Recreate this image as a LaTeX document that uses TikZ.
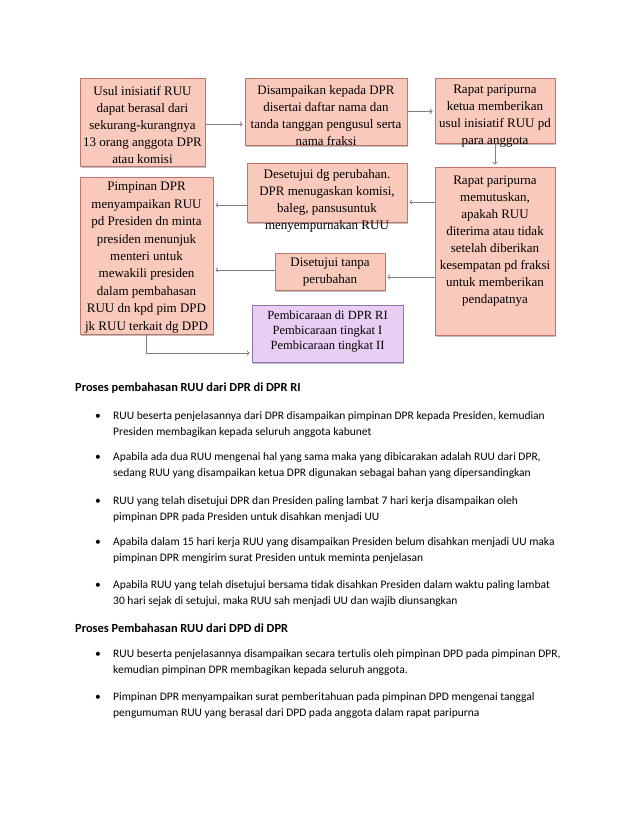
\documentclass[tikz,border=0pt]{standalone}
\usepackage{fontspec}
\setmainfont{Liberation Serif}
\newfontfamily\bodyfont{Carlito}
\usepackage{tikz}
\usetikzlibrary{positioning,shadows,arrows}
\definecolor{boxfill}{HTML}{F9CABB}
\definecolor{boxline}{HTML}{BF746C}
\definecolor{purplefill}{HTML}{E7CEF2}
\definecolor{purpleline}{HTML}{9275AA}
\definecolor{arrowgray}{HTML}{857A86}

\begin{document}
\begin{tikzpicture}[x=1pt,y=-1pt]
\tikzstyle{pinkbox} = [rectangle, draw=boxline, fill=boxfill, line width=0.8pt, inner sep=0pt, drop shadow={shadow xshift=1pt, shadow yshift=-1.8pt, opacity=0.5}]
\tikzstyle{purplebox} = [pinkbox, draw=purpleline, fill=purplefill]
\tikzstyle{boxtext} = [align=center, inner sep=0pt, font=\fontsize{13}{17}\selectfont]
\tikzstyle{arrow} = [draw=arrowgray, line width=0.9pt, ->, >=to, shorten >=2pt]
\tikzstyle{heading} = [anchor=base west, inner sep=0pt, font=\bodyfont\bfseries\fontsize{12.4}{17}\selectfont]
\tikzstyle{item} = [anchor=base west, inner sep=0pt, align=left, font=\bodyfont\fontsize{11.5}{16.8}\selectfont]
\tikzstyle{dot} = [anchor=base, inner sep=0pt, font=\bodyfont\fontsize{11.5}{17}\selectfont]

\useasboundingbox (0,0) rectangle (638,826);

%boxes
\node (usul) [pinkbox, minimum width=125, minimum height=88] at (142.5,122) {};
\node (disampaikan) [pinkbox, minimum width=162, minimum height=67] at (326,111.5) {};
\node (rapat1) [pinkbox, minimum width=120, minimum height=65] at (495,110.5) {};
\node (desetujui) [pinkbox, minimum width=160, minimum height=59] at (327,192.5) {};
\node (rapat2) [pinkbox, minimum width=120, minimum height=168] at (495,251) {};
\node (pimpinan) [pinkbox, minimum width=133, minimum height=157] at (146.5,255.5) {};
\node (tanpa) [pinkbox, minimum width=110, minimum height=37] at (330,271.5) {};
\node (pembicaraan) [purplebox, minimum width=151, minimum height=57] at (327.5,333.5) {};

%box texts
\node (usultext) [boxtext, yshift=-3pt] at (usul) {Usul inisiatif RUU\\ dapat berasal dari\\ sekurang-kurangnya\\ 13 orang anggota DPR\\ atau komisi};
\node (disampaikantext) [boxtext, yshift=-4.5pt] at (disampaikan) {Disampaikan kepada DPR\\ disertai daftar nama dan\\ tanda tanggan pengusul serta\\ nama fraksi};
\node (rapat1text) [boxtext, yshift=-5.5pt] at (rapat1) {Rapat paripurna\\ ketua memberikan\\ usul inisiatif RUU pd\\ para anggota};
\node (desetujuitext) [boxtext, yshift=-8pt] at (desetujui) {Desetujui dg perubahan.\\ DPR menugaskan komisi,\\ baleg, pansusuntuk\\ menyempurnakan RUU};
\node (rapat2text) [boxtext, yshift=10pt] at (rapat2) {Rapat paripurna\\ memutuskan,\\ apakah RUU\\ diterima atau tidak\\ setelah diberikan\\ kesempatan pd fraksi\\ untuk memberikan\\ pendapatnya};
\node (pimpinantext) [boxtext, yshift=-2pt, font=\fontsize{13}{17.4}\selectfont] at (pimpinan) {Pimpinan DPR\\ menyampaikan RUU\\ pd Presiden dn minta\\ presiden menunjuk\\ menteri untuk\\ mewakili presiden\\ dalam pembahasan\\ RUU dn kpd pim DPD\\ jk RUU terkait dg DPD};
\node (tanpatext) [boxtext, yshift=-1pt] at (tanpa) {Disetujui tanpa\\ perubahan};
\node (pembicaraantext) [boxtext, yshift=1.5pt, font=\fontsize{12.5}{15}\selectfont] at (pembicaraan) {Pembicaraan di DPR RI\\ Pembicaraan tingkat I\\ Pembicaraan tingkat II};

%arrows
\draw [arrow] ([yshift=-2pt]usul.east) -- ([yshift=-2pt]usul.east -| disampaikan.west);
\draw [arrow] (disampaikan.east) -- (disampaikan.east -| rapat1.west);
\draw [arrow] (rapat1) -- (rapat2);
\draw [arrow] ([yshift=-9.5pt]desetujui.east -| rapat2.west) -- ([yshift=-9.5pt]desetujui.east);
\draw [arrow] ([yshift=-12.5pt]desetujui.west) -- ([yshift=-12.5pt]desetujui.west -| pimpinan.east);
\draw [arrow] ([yshift=-5.5pt]tanpa.east -| rapat2.west) -- ([yshift=-5.5pt]tanpa.east);
\draw [arrow] ([yshift=1.5pt]tanpa.west) -- ([yshift=1.5pt]tanpa.west -| pimpinan.east);
\draw [arrow] (pimpinan.south) |- ([yshift=-19.5pt]pembicaraan.west);

%text
\node (head1) [heading] at (75,391.5) {Proses pembahasan RUU dari DPR di DPR RI};
\node (dot1) [dot] at (98,419) {\textbullet};
\node (item1) [item] at (113,435.8) {RUU beserta penjelasannya dari DPR disampaikan pimpinan DPR kepada Presiden, kemudian\\ Presiden membagikan kepada seluruh anggota kabunet};
\node (dot2) [dot] at (98,460) {\textbullet};
\node (item2) [item] at (113,476.8) {Apabila ada dua RUU mengenai hal yang sama maka yang dibicarakan adalah RUU dari DPR,\\ sedang RUU yang disampaikan ketua DPR digunakan sebagai bahan yang dipersandingkan};
\node (dot3) [dot] at (98,504) {\textbullet};
\node (item3) [item] at (113,520.8) {RUU yang telah disetujui DPR dan Presiden paling lambat 7 hari kerja disampaikan oleh\\ pimpinan DPR pada Presiden untuk disahkan menjadi UU};
\node (dot4) [dot] at (98,545) {\textbullet};
\node (item4) [item] at (113,561.8) {Apabila dalam 15 hari kerja RUU yang disampaikan Presiden belum disahkan menjadi UU maka\\ pimpinan DPR mengirim surat Presiden untuk meminta penjelasan};
\node (dot5) [dot] at (98,588) {\textbullet};
\node (item5) [item] at (113,604.8) {Apabila RUU yang telah disetujui bersama tidak disahkan Presiden dalam waktu paling lambat\\ 30 hari sejak di setujui, maka RUU sah menjadi UU dan wajib diunsangkan};
\node (head2) [heading] at (75,632) {Proses Pembahasan RUU dari DPD di DPR};
\node (dot6) [dot] at (98,657) {\textbullet};
\node (item6) [item] at (113,673.8) {RUU beserta penjelasannya disampaikan secara tertulis oleh pimpinan DPD pada pimpinan DPR,\\ kemudian pimpinan DPR membagikan kepada seluruh anggota.};
\node (dot7) [dot] at (98,700) {\textbullet};
\node (item7) [item] at (113,716.8) {Pimpinan DPR menyampaikan surat pemberitahuan pada pimpinan DPD mengenai tanggal\\ pengumuman RUU yang berasal dari DPD pada anggota dalam rapat paripurna};
\end{tikzpicture}
\end{document}
